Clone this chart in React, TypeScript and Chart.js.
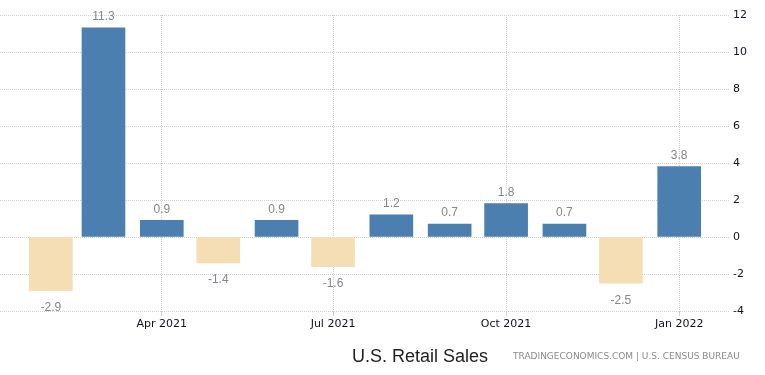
import React, { useEffect, useRef } from "react";
import { Chart, registerables } from "chart.js";

Chart.register(...registerables);

const months = [
  "2021-02-01", "2021-03-01", "2021-04-01", "2021-05-01", "2021-06-01", "2021-07-01",
  "2021-08-01", "2021-09-01", "2021-10-01", "2021-11-01", "2021-12-01", "2022-01-01",
];
const values = [-2.9, 11.3, 0.9, -1.4, 0.9, -1.6, 1.2, 0.7, 1.8, 0.7, -2.5, 3.8];
const tickDates = ["2021-04-01", "2021-07-01", "2021-10-01", "2022-01-01"];
const tickLabels = ["Apr 2021", "Jul 2021", "Oct 2021", "Jan 2022"];
const yTicks = [-4, -2, 0, 2, 4, 6, 8, 10, 12];
const axisStart = "2021-01-05";
const axisEnd = "2022-01-28";

const EPOCH = Date.UTC(2021, 0, 1);
const day = (s: string) => (new Date(s + "T00:00:00Z").getTime() - EPOCH) / 86400000;

const POS = "#4A7FB0";
const NEG = "#F5DEB3";

const labelPlugin = {
  id: "valueLabels",
  afterDatasetsDraw(chart: any) {
    const ctx = chart.ctx;
    const meta = chart.getDatasetMeta(0);
    ctx.save();
    ctx.font = "12px 'Liberation Sans', Arial, sans-serif";
    ctx.fillStyle = "#85858f";
    ctx.textAlign = "center";
    ctx.textBaseline = "middle";
    meta.data.forEach((bar: any, i: number) => {
      const v = values[i];
      const y = v >= 0 ? bar.y - 11 : bar.y + 17;
      ctx.fillText(v.toFixed(1), bar.x, y);
    });
    ctx.restore();
  },
};

export default function App() {
  const ref = useRef<HTMLCanvasElement | null>(null);
  useEffect(() => {
    if (!ref.current) return;
    const chart = new Chart(ref.current, {
      type: "bar",
      data: {
        datasets: [
          {
            data: months.map((m, i) => ({ x: day(m), y: values[i] })),
            backgroundColor: values.map((v) => (v >= 0 ? POS : NEG)),
            barThickness: 43,
            borderWidth: 0,
          },
        ],
      },
      options: {
        animation: false,
        responsive: false,
        maintainAspectRatio: false,
        layout: { padding: { top: 15, left: 0, right: 0, bottom: 0 } },
        plugins: { legend: { display: false }, tooltip: { enabled: false } },
        scales: {
          x: {
            type: "linear",
            min: day(axisStart),
            max: day(axisEnd),
            offset: false,
            afterBuildTicks: (scale: any) => {
              scale.ticks = tickDates.map((d) => ({ value: day(d) }));
            },
            afterFit: (scale: any) => {
              scale.height = 64;
            },
            ticks: {
              autoSkip: false,
              maxRotation: 0,
              padding: 2,
              color: "#111122",
              font: { family: "'DejaVu Sans', sans-serif", size: 11 },
              callback: (val: any) => {
                const idx = tickDates.findIndex((d) => day(d) === val);
                return idx >= 0 ? tickLabels[idx] : "";
              },
            },
            grid: {
              color: "#cfcfcf",
              tickLength: 5,
              offset: false,
              drawOnChartArea: true,
            },
            border: { display: false, dash: [1, 1] },
          },
          y: {
            position: "right",
            min: -4,
            max: 12,
            afterBuildTicks: (scale: any) => {
              scale.ticks = yTicks.map((v) => ({ value: v }));
            },
            afterFit: (scale: any) => {
              scale.width = 35;
            },
            ticks: {
              padding: 3,
              color: "#111122",
              font: { family: "'DejaVu Sans', sans-serif", size: 11 },
            },
            grid: { color: "#cfcfcf", drawTicks: false },
            border: { display: false, dash: [1, 1] },
          },
        },
      },
      plugins: [labelPlugin],
    } as any);
    return () => chart.destroy();
  }, []);

  return (
    <div style={{ position: "absolute", left: 0, top: 0, width: 765, height: 375, background: "#fff" }}>
      <canvas ref={ref} width={765} height={375} style={{ display: "block" }} />
      <div
        style={{
          position: "absolute",
          left: 352,
          top: 346,
          font: "18px 'Liberation Sans', Arial, sans-serif",
          color: "#222",
          whiteSpace: "nowrap",
        }}
      >
        U.S. Retail Sales
      </div>
      <div
        style={{
          position: "absolute",
          left: 513,
          top: 351,
          font: "9px 'DejaVu Sans', sans-serif",
          color: "#8a8a8a",
          whiteSpace: "nowrap",
        }}
      >
        TRADINGECONOMICS.COM | U.S. CENSUS BUREAU
      </div>
    </div>
  );
}
